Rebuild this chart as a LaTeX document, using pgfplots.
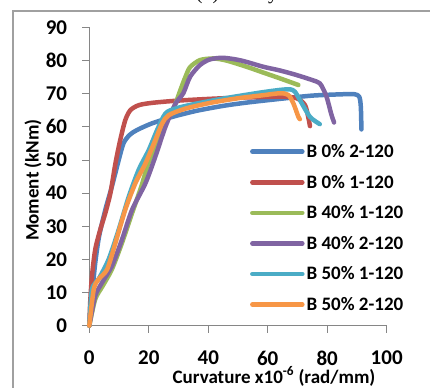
\documentclass[border=0pt]{standalone}
\usepackage{pgfplots}
\pgfplotsset{compat=1.18}
\usepackage{fontspec}
\setmainfont{Carlito}
\newfontfamily\titlefont{Liberation Serif}
\definecolor{xblue}{HTML}{4F81BD}
\definecolor{xred}{HTML}{C0504D}
\definecolor{xgreen}{HTML}{9BBB59}
\definecolor{xpurple}{HTML}{8064A2}
\definecolor{xcyan}{HTML}{4BACC6}
\definecolor{xorange}{HTML}{F79646}
\definecolor{axgray}{HTML}{868686}
\definecolor{framegray}{HTML}{A0A0A0}
\newcommand{\bigbf}{\fontsize{19bp}{22bp}\selectfont\bfseries}
\newcommand{\tickbf}{\fontsize{21bp}{24bp}\selectfont\bfseries}
\begin{document}
\begin{tikzpicture}
\useasboundingbox (0,0) rectangle (430bp,388bp);
\draw[framegray, line width=1.5bp] (13bp,-10bp) -- (13bp,377bp) -- (440bp,377bp);
\node[font=\titlefont\fontsize{20bp}{24bp}\selectfont, anchor=base] at (237bp,388bp) {(b) 90 day};
\begin{axis}[
  at={(89.3bp,62.3bp)}, anchor=south west,
  scale only axis, width=297.4bp, height=298.4bp,
  xmin=0, xmax=100, ymin=0, ymax=90,
  xtick={0,20,...,100}, ytick={0,10,...,90},
  axis lines=left, axis line style={-, axgray, line width=0.8bp},
  tick style={axgray, line width=0.8bp},
  tick align=outside, major tick length=7bp,
  /pgf/number format/assume math mode=true,
  ticklabel style={font=\tickbf, inner sep=0pt},
  yticklabel style={anchor=east, xshift=-15bp},
  xticklabel style={anchor=north, yshift=-18bp},
  legend style={draw=none, fill=none, font=\bigbf, at={(0.54,0.615)}, anchor=north west, row sep=12bp, inner sep=0pt, nodes={inner sep=2bp}},
  legend cell align=left,
  legend image code/.code={\draw[#1, line width=4.5bp, line cap=round] (0bp,0bp) -- (50bp,0bp);},
  every axis plot/.append style={line width=4.5bp, line join=round, line cap=round, smooth, tension=0.45},
  clip=false,
]
\addplot[xblue] coordinates {(0,0) (1,10) (2,19) (3.3,27) (5.4,35) (7.6,42) (9.9,50) (11.5,55) (13.5,57.5) (16,59) (21,61) (28,63) (36,64.8) (45,66.3) (53,67.3) (65,68.5) (75,69.4) (85,69.8) (89.3,69.8) (90.8,69) (91.3,66) (91.5,59.2)};
\addlegendentry{B 0\% 2-120}
\addplot[xred] coordinates {(0,0) (0.3,7) (0.9,15) (2,23) (3.7,29) (5.4,34) (7.1,40) (8.8,49) (10.4,56) (12.1,62) (13.8,65) (16.6,66.5) (21,67.2) (30,67.9) (45,68.6) (64,69.1) (69.7,68.6) (72.5,66.6) (73.6,63) (74.2,60.2)};
\addlegendentry{B 0\% 1-120}
\addplot[xgreen] coordinates {(0,0) (2,8) (4.5,12) (7.6,17) (11,25) (14.4,34) (17.5,42) (19.5,48) (22,54) (25,60) (27.5,64) (29,67) (30.6,71) (32.3,75) (33.9,78) (37.2,80.1) (41.7,80.6) (46,80) (52.9,78.1) (58,76.5) (64.1,74.6) (70.3,72.6)};
\addlegendentry{B 40\% 1-120}
\addplot[xpurple] coordinates {(0,0) (2,9) (4.3,13) (7.6,18) (11,26) (14.4,35) (18.9,43) (22.2,51) (25.6,60) (29,67) (31.6,70.1) (33.9,75.1) (37.2,78.6) (40.5,80.3) (45,80.8) (51,80) (58.5,78.1) (64,77) (69.7,75.6) (76.5,73.6) (78,72.5) (79.8,69) (81.3,64) (82.3,61.3)};
\addlegendentry{B 40\% 2-120}
\addplot[xcyan] coordinates {(0,0) (0.9,11) (3.1,14) (6.5,20) (9.9,29) (13.3,39) (16.6,47) (20,53) (22.8,59) (25.6,64) (29,65.5) (35,66.8) (45,68.5) (57.4,70.3) (64,71.1) (67.5,71.3) (69.1,70.6) (70.8,68.1) (74.2,63) (77.5,60.8)};
\addlegendentry{B 50\% 1-120}
\addplot[xorange] coordinates {(0,0) (1.5,11) (3.1,14) (6,17) (8.8,25) (12.1,35) (15.5,43) (18.9,49) (22.2,56) (24.5,61) (26.7,63.5) (32.4,65.5) (40.6,67.2) (50,68.6) (57.4,69.4) (64.1,70.1) (66.9,69.6) (68.6,67.1) (70.3,63) (70.8,62.3)};
\addlegendentry{B 50\% 2-120}
\end{axis}
\node[font=\bigbf, rotate=90] at (33bp,208bp) {Moment (kNm)};
\node[font=\bigbf, anchor=base] at (274bp,5bp) {Curvature x10\textsuperscript{-6} (rad/mm)};
\end{tikzpicture}
\end{document}
